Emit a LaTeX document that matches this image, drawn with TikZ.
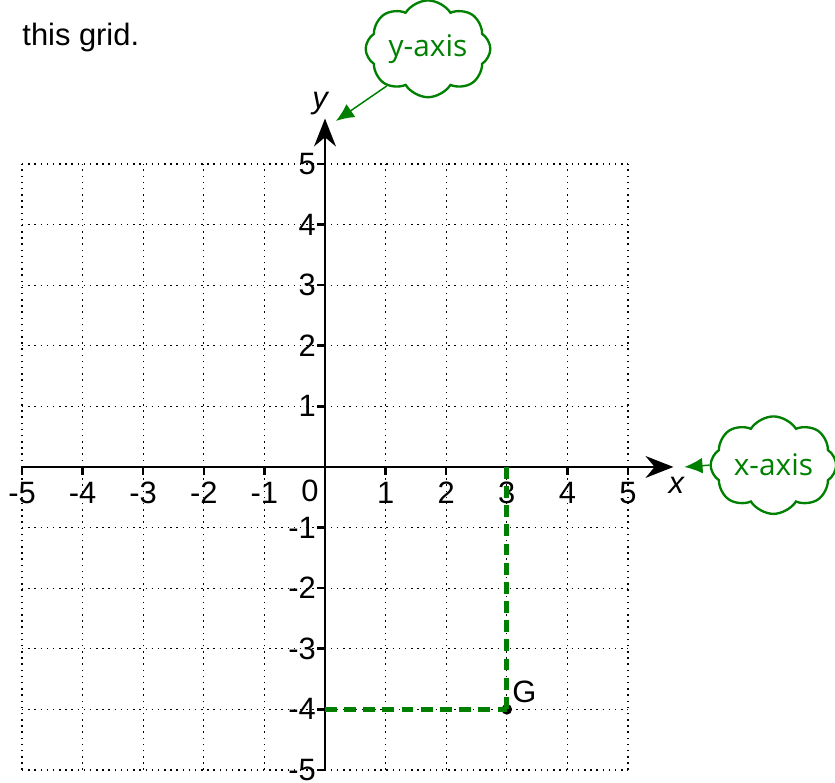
\documentclass[tikz,border=0pt]{standalone}
\usepackage{fontspec}
\setmainfont{Liberation Sans}
\newfontfamily\cloudfont{Open Sans}
\usepackage{xcolor}
\usepackage{tikz}
\usetikzlibrary{shapes.symbols}
\usetikzlibrary{arrows.meta}
\usetikzlibrary{positioning}

\definecolor{gridgreen}{RGB}{0,128,0}

\begin{document}
\begin{tikzpicture}[
    every node/.style={font=\fontsize{14.5}{17}\selectfont},
    tick label/.style={inner sep=1pt},
    note cloud/.style={cloud, draw=gridgreen, line width=1.1pt, cloud puffs=8, cloud puff arc=115,
      aspect=1.5, minimum width=2.05cm, minimum height=1.38cm, text=gridgreen, inner sep=1pt,
      font=\cloudfont\fontsize{14}{16}\selectfont},
    note arrow/.style={gridgreen, line width=0.7pt, -{Latex[length=3mm,width=2.6mm]}},
    axis/.style={line width=1.2pt, -{Stealth[length=4.6mm,width=3.6mm]}},
    guide/.style={gridgreen, line width=2.4pt, dash pattern=on 5.5pt off 3.5pt}
  ]
  \useasboundingbox (-5.363,-5.215) rectangle (8.416,7.706);

  % Grid
  \draw[line width=0.6pt, dash pattern=on 0.7pt off 2.2pt] (-5,-5) grid (5,5);

  % Axes
  \coordinate (xs) at (-5,0);
  \coordinate (xe) at (5.75,0);
  \coordinate (ys) at (0,-5);
  \coordinate (ye) at (0,5.75);
  \draw[axis] (xs) -- (xe);
  \draw[axis] (ys) -- (ye);
  \node (xlab) at (5.8,-0.3) {\itshape x};
  \node (ylab) at (-0.08,6.0) {\itshape y};

  % Ticks and labels
  \foreach \i in {-5,...,-1,1,2,3,4,5} {
    \draw[line width=1.2pt] (\i,0) -- (\i,-0.13);
    \node[tick label] (xt\i) at (\i,-0.43) {\i};
    \draw[line width=1.2pt] (0,\i) -- (-0.13,\i);
    \node[tick label, anchor=east] (yt\i) at (-0.11,\i) {\i};
  }
  \node[tick label] (zero) at (-0.25,-0.4) {0};

  % Point G
  \coordinate (g0) at (0,-4);
  \coordinate (g1) at (3,0);
  \node[circle, fill, inner sep=0pt, minimum size=5pt] (G) at (3,-4) {};
  \draw[guide] (g0) -- (G.center);
  \draw[guide] (g1) -- (G.center);
  \node[anchor=south west, inner sep=1pt] (Glab) at (3.05,-3.93) {G};

  % Clouds
  \node[note cloud] (ycloud) at (1.7,6.9) {y-axis};
  \node[note cloud] (xcloud) at (7.4,0.03) {x-axis};
  \coordinate (ytip) at (0.18,5.71);
  \coordinate (xtip) at (5.93,0.0);
  \draw[note arrow] (ycloud.222) -- (ytip);
  \draw[note arrow] (xcloud.west) -- (xtip);

  % Text
  \node[anchor=west, inner sep=0pt] (caption) at (-5,7.08) {this grid.};

\end{tikzpicture}
\end{document}
